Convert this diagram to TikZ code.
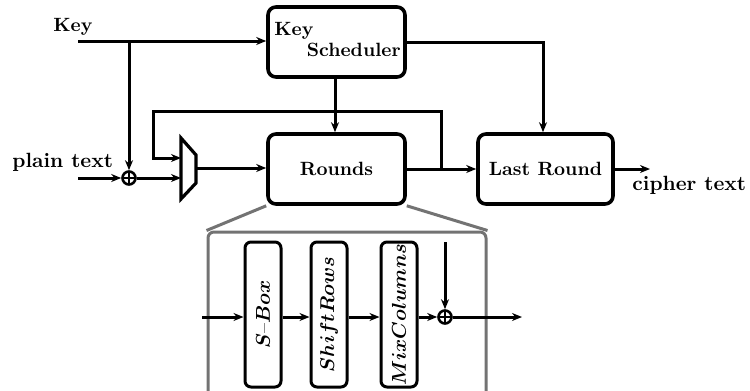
\documentclass[tikz,border=0pt]{standalone}
\usepackage{graphicx}
\usetikzlibrary{arrows.meta}
\begin{document}
\begin{tikzpicture}[x=0.5pt,y=-0.5pt,
  txt/.style={font=\fontsize{9.6}{11}\selectfont\bfseries, inner sep=0pt},
  iotxt/.style={font=\fontsize{10.3}{12}\selectfont\bfseries, inner sep=0pt},
  blk/.style={draw, line width=1.8pt, rounded corners=4pt, minimum height=35pt,
    inner sep=0pt, font=\fontsize{9.6}{11}\selectfont\bfseries},
  ibox/.style={draw, line width=1.5pt, rounded corners=3pt, minimum width=18pt,
    minimum height=72.5pt, inner sep=0pt, font=\fontsize{10}{12}\selectfont\boldmath},
  conn/.style={line width=1.5pt, -{Stealth[length=5pt,width=4pt]}},
  xor/.style={circle, draw, line width=1.3pt, minimum size=6.5pt, inner sep=0pt,
    path picture={\draw[line width=1.3pt]
      (path picture bounding box.north) -- (path picture bounding box.south)
      (path picture bounding box.west) -- (path picture bounding box.east);}},
  gbox/.style={draw=black!55, line width=1.5pt},
]
\useasboundingbox (0,0) rectangle (750,391);
\clip (0,0) rectangle (750,391);

% main blocks
\node[blk, minimum width=68.5pt] (ks) at (336.5,42) {};
\node[txt, anchor=base west] (kskey) at (274,35) {Key};
\node[txt, anchor=base east] (kssch) at (401,56) {Scheduler};
\node[blk, minimum width=68.5pt] (rounds) at (336.5,169) {Rounds};
\node[blk, minimum width=67.5pt] (last) at (545.5,169) {Last Round};

% external labels
\node[txt, anchor=base west] (keylbl) at (53,32) {Key};
\node[iotxt, anchor=base west] (ptlbl) at (12,167) {plain text};
\node[iotxt, anchor=base west] (ctlbl) at (632,190) {cipher text};

% key input and whitening XOR
\coordinate (keyin) at (78,41);
\coordinate (ksplit) at (129,41);
\coordinate (ptin) at (78,178);
\node[xor] (xor1) at (129,178) {};
\draw[conn] (keyin) -- (ks.west |- keyin);
\draw[conn] (ksplit) -- (xor1.north);
\draw[conn] (ptin) -- (xor1.west);

% multiplexer
\coordinate (m1) at (181,138);
\coordinate (m2) at (196,155);
\coordinate (m3) at (196,183);
\coordinate (m4) at (181,199);
\draw[line width=1.6pt, line join=miter] (m1) -- (m2) -- (m3) -- (m4) -- cycle;
\coordinate (muxa) at (181,158);
\coordinate (muxb) at (181,178);
\coordinate (muxo) at (196,168);
\draw[conn] (xor1.east) -- (muxb);
\draw[conn] (muxo) -- (rounds.west |- muxo);

% round loop and key schedule
\coordinate (fb) at (441,169);
\draw[conn] (fb) |- (153,111) |- (muxa);
\draw[conn] (ks.south -| 335,0) -- (rounds.north -| 335,0);
\draw[conn] (ks.east) -| (last.north -| 543,0);
\draw[conn] (rounds.east) -- (last.west);
\coordinate (ctout) at (650,169);
\draw[conn] (last.east) -- (ctout);

% round detail
\node[gbox, rounded corners=3pt, minimum width=139pt, minimum height=83pt, inner sep=0pt]
  (detail) at (347,315) {};
\draw[gbox] (rounds.south west) -- (detail.north west);
\draw[gbox] (rounds.south east) -- (detail.north east);

\node[ibox] (sbox) at (263,314.5) {\rotatebox{90}{$S$\textendash$Box$}};
\node[ibox] (shr) at (329,314.5) {\rotatebox{90}{$ShiftRows$}};
\node[ibox] (mix) at (399,314.5) {\rotatebox{90}{$MixColumns$}};
\node[xor] (xor2) at (445,317) {};

\coordinate (din) at (202,317);
\coordinate (kin) at (445,242);
\coordinate (dout) at (522,317);
\draw[conn] (din) -- (sbox.west |- din);
\draw[conn] (sbox.east |- din) -- (shr.west |- din);
\draw[conn] (shr.east |- din) -- (mix.west |- din);
\draw[conn] (mix.east |- din) -- (xor2.west);
\draw[conn] (kin) -- (xor2.north);
\draw[conn] (xor2.east) -- (dout);
\end{tikzpicture}
\end{document}
